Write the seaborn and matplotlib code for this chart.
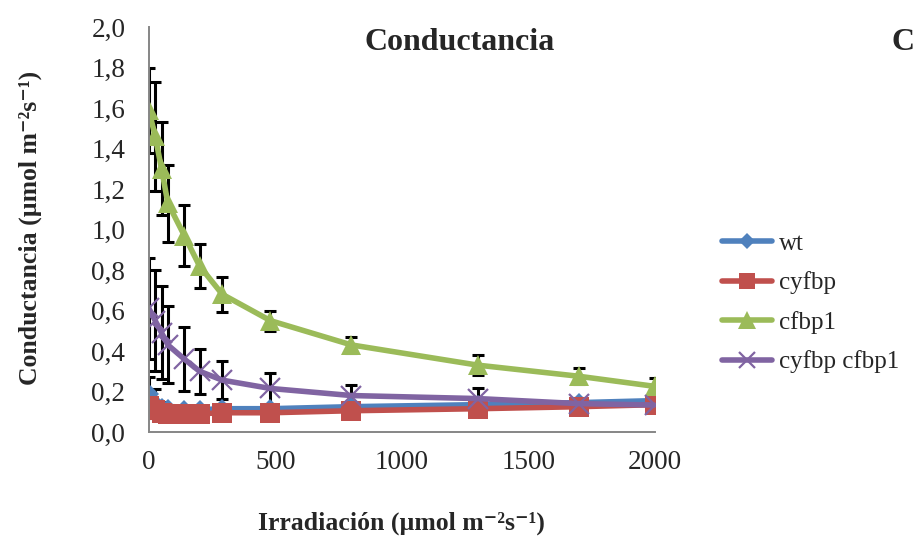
import numpy as np
import pandas as pd
import seaborn as sns
import matplotlib.pyplot as plt
from matplotlib.lines import Line2D
from matplotlib.ticker import FuncFormatter

# Irradiance levels (umol m-2 s-1)
irradiance = [0, 25, 50, 75, 140, 200, 290, 480, 800, 1300, 1700, 2000]

# Mean conductance per genotype
wt = [0.19, 0.14, 0.12, 0.115, 0.11, 0.11, 0.115, 0.115, 0.125, 0.135, 0.145, 0.155]
cyfbp = [0.13, 0.11, 0.095, 0.09, 0.09, 0.09, 0.095, 0.095, 0.105, 0.115, 0.125, 0.135]
cfbp1 = [1.59, 1.46, 1.30, 1.13, 0.97, 0.82, 0.68, 0.55, 0.43, 0.33, 0.275, 0.225]
cyfbp_cfbp1 = [0.61, 0.55, 0.49, 0.43, 0.36, 0.30, 0.256, 0.215, 0.18, 0.165, 0.14, 0.133]

# Error bar half-widths
wt_err = [0.08, 0.07, 0.03, 0.02, 0.02, 0.02, 0.02, 0.02, 0.02, 0.02, 0.02, 0.02]
cyfbp_err = [0.03, 0.03, 0.02, 0.02, 0.02, 0.02, 0.02, 0.02, 0.02, 0.02, 0.02, 0.02]
cfbp1_err = [0.21, 0.27, 0.23, 0.19, 0.15, 0.11, 0.085, 0.05, 0.04, 0.05, 0.04, 0.04]
cyfbp_cfbp1_err = [0.25, 0.25, 0.23, 0.19, 0.16, 0.11, 0.095, 0.075, 0.05, 0.05, 0.03, 0.01]

series_names = ['wt', 'cyfbp', 'cfbp1', 'cyfbp cfbp1']
series_vals = [wt, cyfbp, cfbp1, cyfbp_cfbp1]
series_errs = [wt_err, cyfbp_err, cfbp1_err, cyfbp_cfbp1_err]

colors = {'wt': '#4F81BD', 'cyfbp': '#C0504D', 'cfbp1': '#9BBB59', 'cyfbp cfbp1': '#8064A2'}
markers = {'wt': 'D', 'cyfbp': 's', 'cfbp1': '^', 'cyfbp cfbp1': 'x'}
msizes = {'wt': 10, 'cyfbp': 14, 'cfbp1': 15, 'cyfbp cfbp1': 14}

sns.set_style('white')
plt.rcParams['font.family'] = ['Liberation Serif', 'DejaVu Serif']

fig = plt.figure(figsize=(9.19, 5.41), dpi=100)
ax = fig.add_axes([0.162, 0.2015, 0.551, 0.7485])

# error bars behind the lines
for name, vals, errs in zip(series_names, series_vals, series_errs):
    ax.errorbar(irradiance, vals, yerr=errs, fmt='none', ecolor='black',
                elinewidth=2.2, capsize=4.5, capthick=2.2, zorder=1)

for name, vals in zip(series_names, series_vals):
    d = pd.DataFrame({'irr': irradiance, 'cond': vals})
    x_mark = name == 'cyfbp cfbp1'
    sns.lineplot(data=d, x='irr', y='cond', color=colors[name], marker=markers[name],
                 markersize=msizes[name], markeredgecolor=colors[name],
                 markeredgewidth=1.6 if x_mark else 0, linewidth=4,
                 ax=ax, zorder=2)

ax.set_xlim(0, 2000)
ax.set_ylim(0, 2.0)
ax.set_xticks([0, 500, 1000, 1500, 2000])
ax.set_yticks(np.arange(0, 2.01, 0.2))
ax.yaxis.set_major_formatter(FuncFormatter(lambda v, p: f'{v:.1f}'.replace('.', ',')))

for s in ['top', 'right']:
    ax.spines[s].set_visible(False)
for s in ['left', 'bottom']:
    ax.spines[s].set_color('#868686')
    ax.spines[s].set_linewidth(1.4)
ax.tick_params(axis='x', direction='out', length=4, width=1.4, color='#868686',
               labelsize=19.5, pad=9)
ax.tick_params(axis='y', direction='out', length=4, width=1.4, color='#868686',
               labelsize=19.5, pad=13)
ax.set_xlabel('')
ax.set_ylabel('')

fig.text(0.500, 0.922, 'Conductancia', ha='center', va='center',
         fontsize=23, fontweight='bold')
fig.text(0.983, 0.922, 'C', ha='center', va='center', fontsize=23, fontweight='bold')
fig.text(0.437, 0.033, 'Irradiación (µmol m⁻²s⁻¹)',
         ha='center', va='center', fontsize=18.5, fontweight='bold')
fig.text(0.033, 0.578, 'Conductancia (µmol m⁻²s⁻¹)',
         ha='center', va='center', rotation=90, fontsize=18.5, fontweight='bold')

handles = [Line2D([0], [0], color=colors[n], marker=markers[n], linewidth=4,
                  markersize=msizes[n] - 2, markeredgecolor=colors[n],
                  markeredgewidth=1.6 if n == 'cyfbp cfbp1' else 0)
           for n in series_names]
fig.legend(handles, series_names, loc='center left', bbox_to_anchor=(0.786, 0.44),
           frameon=False, fontsize=18, handlelength=2.0, handletextpad=0.25,
           labelspacing=0.66, borderaxespad=0, borderpad=0)

fig.savefig('out.png', dpi=100)
